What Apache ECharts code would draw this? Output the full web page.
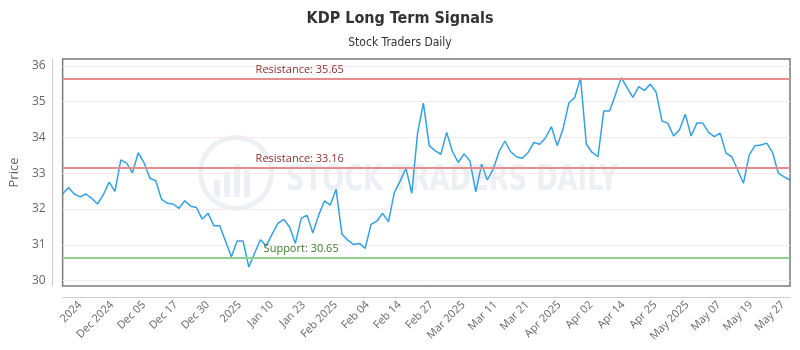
<!DOCTYPE html>
<html>
<head>
<meta charset="utf-8">
<script src="https://cdn.jsdelivr.net/npm/echarts@6/dist/echarts.min.js"></script>
<style>
  html, body { margin: 0; padding: 0; background: #fff; }
  #main { width: 800px; height: 350px; }
</style>
</head>
<body>
<div id="main"></div>
<script>
// closing prices, one per trading day
var price = [
  32.42, 32.60, 32.42, 32.34, 32.42, 32.30, 32.14, 32.40, 32.75, 32.49,
  33.37, 33.28, 33.01, 33.57, 33.29, 32.86, 32.79, 32.27, 32.16, 32.14,
  32.02, 32.23, 32.08, 32.04, 31.72, 31.88, 31.53, 31.53, 31.10, 30.67,
  31.11, 31.11, 30.38, 30.77, 31.14, 30.97, 31.30, 31.60, 31.71, 31.50,
  31.04, 31.74, 31.83, 31.33, 31.83, 32.23, 32.11, 32.55, 31.30, 31.13,
  31.01, 31.04, 30.90, 31.57, 31.66, 31.88, 31.64, 32.46, 32.78, 33.14,
  32.44, 34.12, 34.96, 33.77, 33.63, 33.53, 34.14, 33.60, 33.30, 33.54,
  33.34, 32.48, 33.25, 32.81, 33.12, 33.60, 33.90, 33.60, 33.46, 33.42,
  33.58, 33.86, 33.81, 33.99, 34.30, 33.77, 34.24, 34.96, 35.11, 35.67,
  33.81, 33.58, 33.46, 34.74, 34.74, 35.19, 35.67, 35.39, 35.12, 35.42,
  35.31, 35.49, 35.26, 34.46, 34.40, 34.04, 34.21, 34.65, 34.04, 34.40,
  34.40, 34.14, 34.02, 34.12, 33.56, 33.46, 33.09, 32.72, 33.51, 33.77,
  33.79, 33.84, 33.58, 33.00, 32.90, 32.81
];
var tickLabels = ['2024', 'Dec 2024', 'Dec 05', 'Dec 17', 'Dec 30', '2025', 'Jan 10', 'Jan 23',
  'Feb 2025', 'Feb 04', 'Feb 14', 'Feb 27', 'Mar 2025', 'Mar 11', 'Mar 21', 'Apr 2025',
  'Apr 02', 'Apr 14', 'Apr 25', 'May 2025', 'May 07', 'May 19', 'May 27'];
var resistanceHigh = 35.65;
var resistanceLow = 33.16;
var support = 30.65;

var days = [];
for (var i = 0; i < price.length; i++) days.push(i);

var wm = '#ecf0f4';
var chart = echarts.init(document.getElementById('main'));
var option = {
  animation: false,
  title: [
    { text: 'KDP Long Term Signals', left: 'center', top: 6,
      textStyle: { fontFamily: '"Liberation Sans Narrow", "DejaVu Sans Condensed", sans-serif', fontSize: 16, fontWeight: 'bold', color: '#333' } },
    { text: 'Stock Traders Daily', left: 'center', top: 32,
      textStyle: { fontFamily: '"Liberation Sans Narrow", "DejaVu Sans Condensed", sans-serif', fontSize: 12, fontWeight: 'normal', color: '#333' } }
  ],
  graphic: {
    elements: [
      // watermark
      { type: 'ring', z: 0, shape: { cx: 236, cy: 173, r: 38, r0: 33 }, style: { fill: wm } },
      { type: 'rect', z: 0, shape: { x: 214, y: 180, width: 6, height: 17 }, style: { fill: wm } },
      { type: 'rect', z: 0, shape: { x: 224, y: 172, width: 6, height: 25 }, style: { fill: wm } },
      { type: 'rect', z: 0, shape: { x: 234, y: 164, width: 6, height: 33 }, style: { fill: wm } },
      { type: 'rect', z: 0, shape: { x: 244, y: 170, width: 6, height: 27 }, style: { fill: wm } },
      { type: 'text', z: 0, x: 286, y: 181, scaleX: 0.82,
        style: { text: 'STOCK TRADERS DAILY', fill: wm, verticalAlign: 'middle', font: 'bold 35px "DejaVu Sans Condensed", sans-serif' } }
    ]
  },
  grid: [
    { left: 60, right: 10, top: 59, bottom: 64, show: true, borderWidth: 1.5, borderColor: '#7a7a7a', backgroundColor: 'rgba(0,0,0,0)' },
    { left: 80, right: 17, top: 59, bottom: 64 }
  ],
  xAxis: [
    {
      gridIndex: 0, type: 'category', data: days, boundaryGap: false, offset: 11,
      axisLine: { show: true, lineStyle: { color: '#ccc' } },
      axisTick: { show: false }, axisLabel: { show: false }, splitLine: { show: false }
    },
    {
      gridIndex: 1, type: 'category', data: tickLabels, boundaryGap: false,
      axisLine: { show: false }, axisTick: { show: false }, splitLine: { show: false },
      axisLabel: { interval: 0, rotate: 45, margin: 17, color: '#666', fontSize: 11, fontFamily: '"Open Sans", sans-serif' }
    }
  ],
  yAxis: [
    {
      gridIndex: 0, type: 'value', min: 29.85, max: 36.19, offset: 10,
      name: 'Price', nameLocation: 'middle', nameGap: 30,
      nameTextStyle: { color: '#666', fontSize: 13, fontFamily: '"Open Sans", sans-serif' },
      axisLine: { show: true, lineStyle: { color: '#ccc' } },
      axisTick: { show: false },
      axisLabel: { showMinLabel: false, showMaxLabel: false, color: '#666', fontSize: 12, margin: 7, fontFamily: '"Open Sans", sans-serif' },
      splitLine: { showMinLine: false, showMaxLine: false, lineStyle: { color: '#f6e9e9' } }
    },
    { gridIndex: 1, type: 'value', show: false }
  ],
  series: [
    {
      type: 'line', xAxisIndex: 0, yAxisIndex: 0, data: price, z: 3,
      symbol: 'none', lineStyle: { color: '#34a0e6', width: 1.5 },
      markLine: {
        silent: true, symbol: 'none',
        label: { position: 'insideStartTop', fontSize: 11, fontFamily: '"Open Sans", sans-serif' },
        data: [
          { yAxis: resistanceHigh, lineStyle: { color: '#e58c8c', width: 2, type: 'solid' },
            label: { formatter: 'Resistance: ' + resistanceHigh, color: '#8e2f2f', distance: [193, 3] } },
          { yAxis: resistanceLow, lineStyle: { color: '#e58c8c', width: 2, type: 'solid' },
            label: { formatter: 'Resistance: ' + resistanceLow, color: '#8e2f2f', distance: [193, 3] } },
          { yAxis: support, lineStyle: { color: '#8fcf8f', width: 2, type: 'solid' },
            label: { formatter: 'Support: ' + support, color: '#3b7b2b', distance: [201, 3] } }
        ]
      }
    }
  ]
};
chart.setOption(option);
</script>
</body>
</html>
